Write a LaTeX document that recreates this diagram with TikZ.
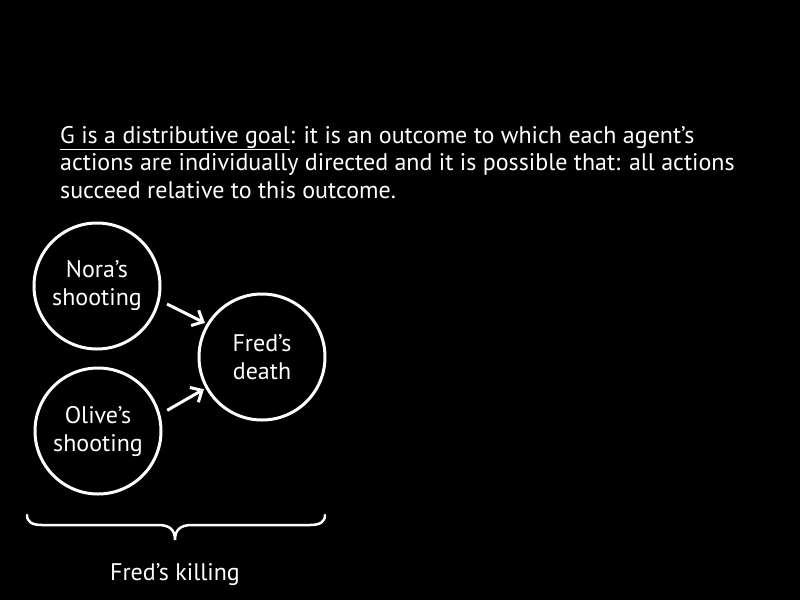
\documentclass[tikz,border=0pt]{standalone}
\usepackage{fontspec}
\setmainfont{PT Sans}
\usetikzlibrary{arrows.meta}
\begin{document}
\begin{tikzpicture}[x=1pt,y=-1pt,
  event/.style={circle, draw=white, line width=3pt, minimum size=126pt, inner sep=0pt,
    align=center, text=white, font=\fontsize{24}{28}\selectfont},
  link/.style={draw=white, line width=3pt, -{Straight Barb[length=9pt,width=17pt]}},
  label/.style={text=white, font=\fontsize{24}{27.5}\selectfont, inner sep=0pt}
]
% page background
\fill[black] (0,0) rectangle (800,600);

% definition text (anchored on the baseline of its last line)
\node[label, anchor=base west, align=left] (defn) at (60,198)
  {\underline{G is a distributive goal}: it is an outcome to which each agent’s\\
   actions are individually directed and it is possible that: all actions\\
   succeed relative to this outcome.};

% events
\node[event] (nora)  at (97,286)  {Nora’s\\shooting};
\node[event] (olive) at (98,431)  {Olive’s\\shooting};
\node[event] (fred)  at (262,357) {Fred’s\\death};

% causal links
\draw[link, shorten <=8pt, shorten >=2pt] (nora.-13) -- (fred.149);
\draw[link, shorten <=8pt, shorten >=2pt] (olive.15) -- (fred.-151);

% brace grouping the whole killing
\draw[white, line width=2.5pt, line cap=round]
  (27,515) .. controls (27,522) and (32,525) .. (42,525) -- (158,525)
  .. controls (170,525) and (175,530) .. (175,540)
  .. controls (175,530) and (180,525) .. (192,525) -- (310,525)
  .. controls (320,525) and (325,522) .. (325,515);
\node[label, anchor=base] (kill) at (175,580) {Fred’s killing};
\end{tikzpicture}
\end{document}
